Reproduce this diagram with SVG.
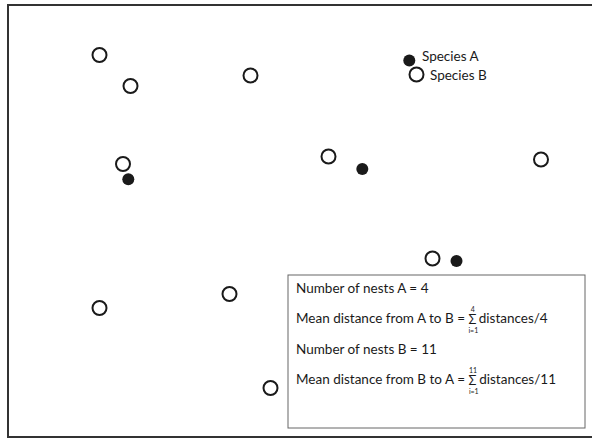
<svg xmlns="http://www.w3.org/2000/svg" width="592" height="439" viewBox="0 0 592 439">
<style>
.b{fill:none;stroke:#1a1a1a;stroke-width:2}
.a{fill:#1a1a1a}
.t{font-family:Lato,"Open Sans","Liberation Sans",sans-serif;fill:#1a1a1a}
.m{font-size:13.5px}
.g{font-size:13px}
.s{font-size:7px}
</style>
<rect x="0" y="0" width="592" height="439" fill="#fff"/>
<rect x="8" y="5" width="600" height="432" fill="none" stroke="#333" stroke-width="2"/>
<g id="nestsB">
<circle class="b" cx="99.5" cy="55" r="7"/>
<circle class="b" cx="130.5" cy="86" r="7"/>
<circle class="b" cx="250.5" cy="75.5" r="7"/>
<circle class="b" cx="123" cy="164" r="7"/>
<circle class="b" cx="328.5" cy="156.5" r="7"/>
<circle class="b" cx="541" cy="159.5" r="7"/>
<circle class="b" cx="432.5" cy="258.5" r="7"/>
<circle class="b" cx="99.5" cy="308" r="7"/>
<circle class="b" cx="229.5" cy="294" r="7"/>
<circle class="b" cx="270.5" cy="388" r="7"/>
</g>
<g id="nestsA">
<circle class="a" cx="128.3" cy="179.3" r="6"/>
<circle class="a" cx="362.3" cy="169" r="6"/>
<circle class="a" cx="456.5" cy="261" r="6"/>
</g>
<g id="legend">
<circle class="a" cx="409.3" cy="60.5" r="6"/>
<circle class="b" cx="416.5" cy="74.5" r="7"/>
<text class="t" x="422" y="61" font-size="13.5">Species A</text>
<text class="t" x="430" y="80" font-size="13.5">Species B</text>
</g>
<g id="infobox">
<rect x="288" y="275" width="297" height="153" fill="#fff" stroke="#666" stroke-width="1"/>
<text class="t m" x="296" y="293">Number of nests A = 4</text>
<text class="t m" x="296" y="323">Mean distance from A to B = <tspan class="g" dy="1">Σ</tspan><tspan class="s" dx="-5.6" dy="-12">4</tspan><tspan class="s" dx="-6.4" dy="21">i=1</tspan><tspan class="m" dx="0.5" dy="-10">distances/4</tspan></text>
<text class="t m" x="296" y="354">Number of nests B = 11</text>
<text class="t m" x="296" y="384">Mean distance from B to A = <tspan class="g" dy="1">Σ</tspan><tspan class="s" dx="-7.4" dy="-12">11</tspan><tspan class="s" dx="-8.2" dy="21">i=1</tspan><tspan class="m" dx="0.5" dy="-10">distances/11</tspan></text>
</g>
</svg>
